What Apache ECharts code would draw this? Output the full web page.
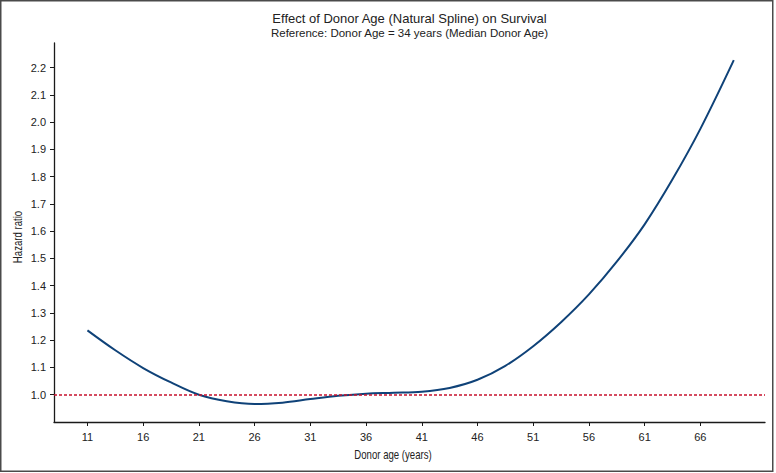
<!DOCTYPE html>
<html>
<head>
<meta charset="utf-8">
<script src="https://cdn.jsdelivr.net/npm/echarts@6/dist/echarts.min.js"></script>
<style>
html,body{margin:0;padding:0;background:#fff;}
#chart{width:776px;height:473px;}
</style>
</head>
<body>
<div id="chart"></div>
<script>
// Data
const ages = [11, 13.5, 16, 18.5, 21, 23.5, 26, 28.5, 31, 33.5, 36, 38.5, 41, 43.5, 46, 48.5, 51, 53.5, 56, 58.5, 61, 63.5, 66, 69];
const hazard = [1.236, 1.163, 1.098, 1.045, 1.000, 0.976, 0.966, 0.971, 0.984, 0.996, 1.004, 1.007, 1.011, 1.025, 1.055, 1.106, 1.178, 1.266, 1.368, 1.488, 1.625, 1.79, 1.975, 2.227];
const xTickValues = [11, 16, 21, 26, 31, 36, 41, 46, 51, 56, 61, 66];
const yTickValues = [1.0, 1.1, 1.2, 1.3, 1.4, 1.5, 1.6, 1.7, 1.8, 1.9, 2.0, 2.1, 2.2];
const referenceHR = 1.0;

const titleText = 'Effect of Donor Age (Natural Spline) on Survival';
const subtitleText = 'Reference: Donor Age = 34 years (Median Donor Age)';
const xName = 'Donor age (years)';
const yName = 'Hazard ratio';

const chart = echarts.init(document.getElementById('chart'), null, {renderer: 'svg'});
const regular = '"Liberation Sans", Arial, Helvetica, sans-serif';

const option = {
  backgroundColor: '#fff',
  animation: false,
  grid: {left: 54, right: 11, top: 43, bottom: 51, outerBoundsMode: 'none'},
  xAxis: {
    type: 'value',
    min: 8,
    max: 71.8,
    axisLine: {show: true, lineStyle: {color: '#1a1a1a', width: 1.3}},
    axisTick: {show: true, customValues: xTickValues, length: 4, lineStyle: {color: '#1a1a1a', width: 1}},
    axisLabel: {customValues: xTickValues, margin: 9, color: '#222', fontSize: 11, fontFamily: regular},
    splitLine: {show: false}
  },
  yAxis: {
    type: 'value',
    min: 0.9,
    max: 2.29,
    axisLine: {show: true, lineStyle: {color: '#1a1a1a', width: 1.3}},
    axisTick: {show: true, customValues: yTickValues, length: 4, lineStyle: {color: '#1a1a1a', width: 1}},
    axisLabel: {customValues: yTickValues, margin: 8, color: '#222', fontSize: 11, fontFamily: regular,
      formatter: v => v.toFixed(1)},
    splitLine: {show: false}
  },
  series: [{
    type: 'line',
    data: ages.map((a, i) => [a, hazard[i]]),
    smooth: 0.35,
    showSymbol: false,
    lineStyle: {color: '#0f4278', width: 2},
    markLine: {
      silent: true,
      symbol: 'none',
      label: {show: false},
      lineStyle: {color: '#c8102e', type: [3, 2], width: 1.6},
      data: [{yAxis: referenceHR}]
    },
    z: 3
  }],
  graphic: [
    {type: 'rect', silent: true, shape: {x: 0.75, y: 0.75, width: 772, height: 470.5},
      style: {fill: 'none', stroke: '#4a4a4a', lineWidth: 1.5}},
    {type: 'text', silent: true, x: 409.5, y: 18,
      style: {text: titleText, textAlign: 'center', textVerticalAlign: 'middle', fontSize: 13, fontFamily: regular, fill: '#222'}},
    {type: 'text', silent: true, x: 409.5, y: 33,
      style: {text: subtitleText, textAlign: 'center', textVerticalAlign: 'middle', fontSize: 11.5, fontFamily: regular, fill: '#222'}},
    {type: 'text', silent: true, x: 393, y: 455, scaleX: 0.8,
      style: {text: xName, textAlign: 'center', textVerticalAlign: 'middle', fontSize: 12, fontFamily: regular, fill: '#222'}},
    {type: 'text', silent: true, x: 18, y: 237, rotation: Math.PI / 2, scaleX: 0.8,
      style: {text: yName, textAlign: 'center', textVerticalAlign: 'middle', fontSize: 12, fontFamily: regular, fill: '#222'}}
  ]
};
chart.setOption(option);
</script>
</body>
</html>
